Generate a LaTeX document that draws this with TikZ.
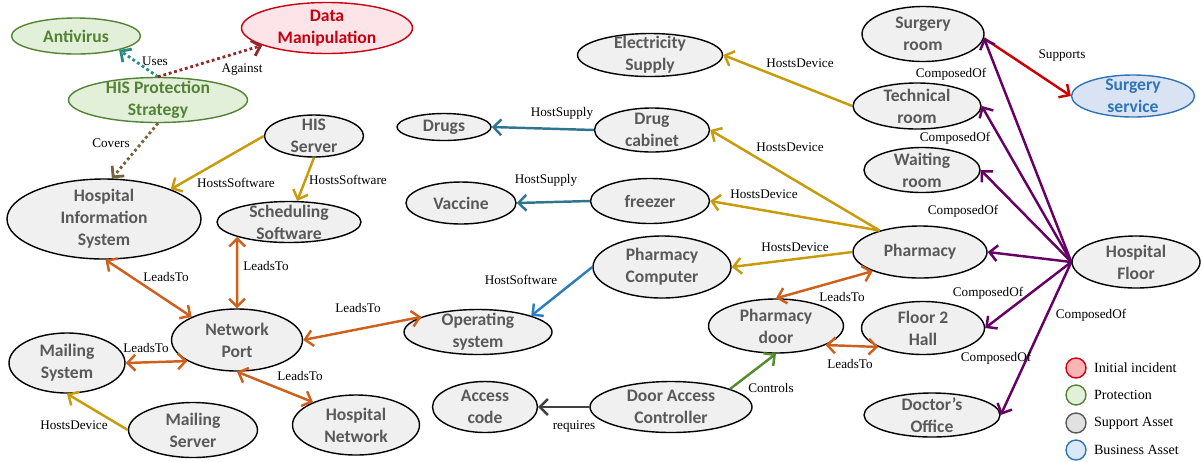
\documentclass[tikz,border=0pt]{standalone}
\usepackage{fontspec}
\setmainfont{Liberation Serif}
\newfontfamily\nodefont{Carlito}
\usepackage{tikz}
\usetikzlibrary{shapes,arrows.meta,positioning}

\definecolor{txtgray}{RGB}{89,89,89}
\definecolor{assetfill}{RGB}{240,240,240}
\definecolor{protgreen}{RGB}{84,130,53}
\definecolor{protfill}{RGB}{226,239,217}
\definecolor{incred}{RGB}{200,0,16}
\definecolor{incfill}{RGB}{252,228,232}
\definecolor{busblue}{RGB}{46,117,182}
\definecolor{busfill}{RGB}{218,227,243}
\definecolor{leadorange}{RGB}{207,96,28}
\definecolor{hostgold}{RGB}{200,155,10}
\definecolor{supplyteal}{RGB}{47,117,144}
\definecolor{softblue}{RGB}{46,125,190}
\definecolor{comppurple}{RGB}{102,0,102}
\definecolor{supred}{RGB}{204,0,0}
\definecolor{ctrlgreen}{RGB}{84,140,48}
\definecolor{reqgray}{RGB}{64,64,64}
\definecolor{usesteal}{RGB}{40,140,130}
\definecolor{againstred}{RGB}{150,40,40}
\definecolor{coverbrown}{RGB}{120,100,60}

\begin{document}
\begin{tikzpicture}[x=0.02cm, y=-0.02cm,
    >={Straight Barb[length=4.5pt,width=9pt]},
    asset/.style={ellipse, draw=black, line width=0.8pt, fill=assetfill, text=txtgray,
      font=\nodefont\bfseries\fontsize{10}{12.5}\selectfont, align=center,
      inner xsep=0pt, inner ysep=-8pt},
    sz/.style 2 args={minimum width=#1*0.02cm, minimum height=#2*0.02cm},
    prot/.style={asset, draw=protgreen, fill=protfill, text=protgreen},
    incid/.style={asset, draw=incred, fill=incfill, text=incred},
    business/.style={asset, draw=busblue, fill=busfill, text=busblue},
    lbl/.style={node font=\fontsize{7.5}{9}\selectfont, text=black, inner sep=0pt},
    conn/.style={line width=1.4pt},
    lead/.style={conn, <->, draw=leadorange},
    hosts/.style={conn, ->, draw=hostgold},
    supply/.style={conn, ->, draw=supplyteal},
    soft/.style={conn, ->, draw=softblue},
    comp/.style={conn, ->, draw=comppurple},
    supports/.style={conn, ->, draw=supred},
    ctrl/.style={conn, ->, draw=ctrlgreen},
    req/.style={conn, ->, draw=reqgray},
    dotconn/.style={->, line width=1.6pt, dash pattern=on 1.6pt off 1.6pt},
    legdot/.style={circle, line width=0.8pt, minimum size=0.4cm, inner sep=0pt},
    legtxt/.style={node font=\fontsize{8}{10}\selectfont, inner sep=0pt}]
    \useasboundingbox (0,0) rectangle (1202,461);
    %
    % protection and incident
    \node[prot, sz={129}{36}] (av) at (76,36) {Antivirus};
    \node[incid, sz={171}{51}] (dm) at (327,28) {Data\\Manipulation};
    \node[prot, sz={179}{45}] (hps) at (158,100) {HIS Protection\\Strategy};
    %
    % information system side
    \node[asset, sz={99}{42}] (hisserv) at (314,136) {HIS\\Server};
    \node[asset, sz={194}{80}] (his) at (104,219) {Hospital\\Information\\System};
    \node[asset, sz={144}{41}] (sched) at (289,222) {Scheduling\\Software};
    \node[asset, sz={131}{62}] (np) at (237,340) {Network\\Port};
    \node[asset, sz={116}{60}] (mails) at (67,363) {Mailing\\System};
    \node[asset, sz={129}{55}] (mserv) at (193,430) {Mailing\\Server};
    \node[asset, sz={127}{60}] (hnet) at (356,425) {Hospital\\Network};
    \node[asset, sz={148}{45}] (os) at (478,332) {Operating\\system};
    %
    % pharmacy side
    \node[asset, sz={105}{51}] (acode) at (485,407) {Access\\code};
    \node[asset, sz={162}{51}] (dac) at (671,407) {Door Access\\Controller};
    \node[asset, sz={135}{54}] (pdoor) at (776,326) {Pharmacy\\door};
    \node[asset, sz={123}{53}] (fhall) at (923,328) {Floor 2\\Hall};
    \node[asset, sz={134}{52}] (pharm) at (920,252) {Pharmacy};
    \node[asset, sz={138}{62}] (pcomp) at (662,267) {Pharmacy\\Computer};
    \node[asset, sz={119}{45}] (freezer) at (650,201) {freezer};
    \node[asset, sz={110}{42}] (vacc) at (461,203) {Vaccine};
    \node[asset, sz={115}{44}] (dcab) at (652,130) {Drug\\cabinet};
    \node[asset, sz={94}{27}] (drugs) at (444,127) {Drugs};
    \node[asset, sz={145}{43}] (elec) at (650,55) {Electricity\\Supply};
    %
    % floor
    \node[asset, sz={122}{55}] (sroom) at (923,34) {Surgery\\room};
    \node[asset, sz={128}{46}] (troom) at (917,106) {Technical\\room};
    \node[asset, sz={116}{45}] (wroom) at (922,170) {Waiting\\room};
    \node[asset, sz={128}{52}] (hfloor) at (1136,262) {Hospital\\Floor};
    \node[business, sz={123}{42}] (sserv) at (1133,96) {Surgery\\service};
    \node[asset, sz={136}{44}] (doffice) at (932,415) {Doctor’s\\Office};
    %
    % connectors
    \draw[dotconn, draw=usesteal] (hps.north) -- (av.-18) node[lbl] at (155,61) {Uses};
    \draw[dotconn, draw=againstred] (hps.north) -- (dm.195) node[lbl] at (242,70) {Against};
    \draw[dotconn, draw=coverbrown] (hps.south) -- (his.79) node[lbl] at (111,143) {Covers};
    \draw[hosts] (hisserv.west) -- (his.24) node[lbl] at (236,183) {HostsSoftware};
    \draw[hosts] (hisserv.south) -- (sched) node[lbl] at (348,180) {HostsSoftware};
    \draw[lead] (his.-88) -- (np.153) node[lbl] at (166,277) {LeadsTo};
    \draw[lead] (sched.196) -- (np.north) node[lbl] at (266,266) {LeadsTo};
    \draw[lead] (np.east) -- (os.165) node[lbl] at (358,308) {LeadsTo};
    \draw[lead] (mails.east) -- (np.203) node[lbl] at (146,348) {LeadsTo};
    \draw[lead] (np.south) -- (hnet.152) node[lbl] at (300,376) {LeadsTo};
    \draw[hosts] (mserv.west) -- (mails.south) node[lbl] at (74,425) {HostsDevice};
    \draw[soft] (pcomp.west) -- (os.17) node[lbl] at (521,280) {HostSoftware};
    %
    \draw[hosts] (pharm.west) -- (pcomp.east) node[lbl] at (795,247) {HostsDevice};
    \draw[hosts] (pharm.152) -- (freezer.east) node[lbl] at (764,194) {HostsDevice};
    \draw[hosts] (pharm.152) -- (dcab.east) node[lbl] at (790,147) {HostsDevice};
    \draw[hosts] (troom.west) -- (elec.east) node[lbl] at (800,63) {HostsDevice};
    \draw[supply] (dcab.west) -- (drugs.east) node[lbl] at (562,113) {HostSupply};
    \draw[supply] (freezer.west) -- (vacc.east) node[lbl] at (546,180) {HostSupply};
    \draw[lead] (pdoor.north) -- (pharm.202) node[lbl] at (842,297) {LeadsTo};
    \draw[lead] (pdoor.-21) -- (fhall.203) node[lbl] at (850,364) {LeadsTo};
    \draw[ctrl] (dac.17) -- (pdoor.south) node[lbl] at (771,388) {Controls};
    \draw[req] (dac.west) -- (acode.east) node[lbl] at (574,427) {requires};
    %
    \draw[supports] (sroom.-4) -- (sserv.west) node[lbl] at (1062,56) {Supports};
    \draw[comp] (hfloor.west) -- (sroom.-4) node[lbl] at (951,74) {ComposedOf};
    \draw[comp] (hfloor.west) -- (troom.east) node[lbl] at (955,138) {ComposedOf};
    \draw[comp] (hfloor.west) -- (wroom.east) node[lbl] at (963,211) {ComposedOf};
    \draw[comp] (hfloor.west) -- (pharm.east) node[lbl] at (988,293) {ComposedOf};
    \draw[comp] (hfloor.west) -- (fhall.east) node[lbl] at (1091,315) {ComposedOf};
    \draw[comp] (hfloor.west) -- (doffice.east) node[lbl] at (996,358) {ComposedOf};
    %
    % legend
    \node[legdot, draw=incred, fill={rgb,255:red,255;green,180;blue,180}] (leg1) at (1076,368) {};
    \node[legtxt, right=4pt of leg1] (legt1) {Initial incident};
    \node[legdot, draw=protgreen, fill=protfill] (leg2) at (1076,395) {};
    \node[legtxt, right=4pt of leg2] (legt2) {Protection};
    \node[legdot, draw=txtgray, fill={rgb,255:red,225;green,225;blue,225}] (leg3) at (1076,423) {};
    \node[legtxt, right=4pt of leg3] (legt3) {Support Asset};
    \node[legdot, draw=busblue, fill={rgb,255:red,218;green,232;blue,247}] (leg4) at (1076,450) {};
    \node[legtxt, right=4pt of leg4] (legt4) {Business Asset};
\end{tikzpicture}
\end{document}
